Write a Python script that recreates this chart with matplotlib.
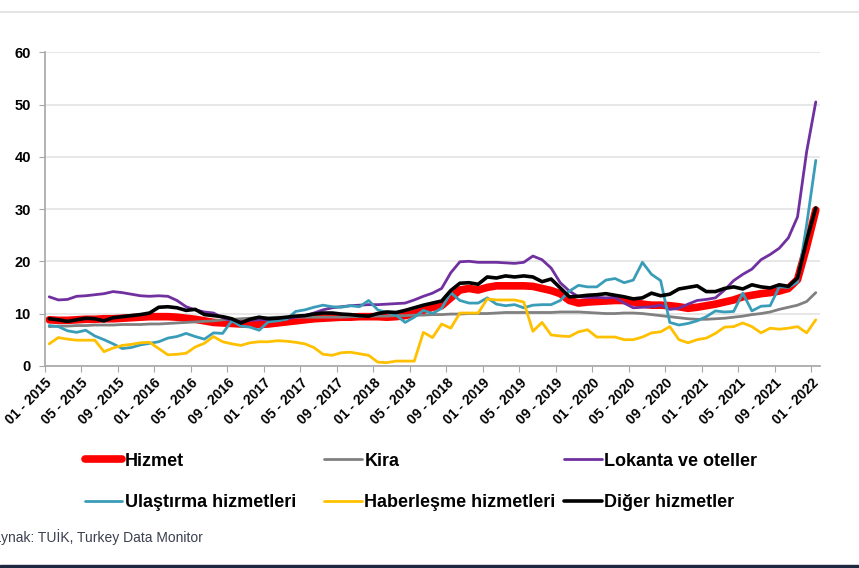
import numpy as np
import matplotlib
matplotlib.use("Agg")
import matplotlib.pyplot as plt
from matplotlib.lines import Line2D

plt.rcParams['font.family'] = ['Liberation Sans', 'DejaVu Sans']

# monthly, 01-2015 ... 01-2022 (annual % change)
months = [f"{m:02d} - {y}" for y in range(2015, 2023) for m in range(1, 13)][:85]

hizmet = [8.8, 8.7, 8.7, 8.8, 8.9, 8.9, 9.0, 9.0, 9.1, 9.2, 9.3, 9.4,
          9.4, 9.4, 9.3, 9.1, 8.9, 8.6, 8.3, 8.2, 8.1, 8.0, 8.0, 7.9,
          8.0, 8.2, 8.4, 8.6, 8.8, 9.0, 9.1, 9.2, 9.3, 9.3, 9.4, 9.4,
          9.4, 9.3, 9.4, 9.6, 10.0, 10.6, 11.2, 11.5, 13.0, 14.5, 14.8, 14.5,
          15.0, 15.3, 15.3, 15.3, 15.3, 15.2, 14.8, 14.4, 13.8, 12.5, 12.0, 12.2,
          12.3, 12.4, 12.5, 12.5, 12.2, 11.8, 11.6, 11.6, 11.5, 11.3, 11.0, 11.2,
          11.5, 11.8, 12.2, 12.6, 13.2, 13.5, 13.8, 14.0, 14.3, 14.8, 16.5, 22.8,
          29.8]
kira = [7.5, 7.6, 7.6, 7.7, 7.7, 7.8, 7.8, 7.8, 7.9, 7.9, 7.9, 8.0,
        8.0, 8.1, 8.2, 8.3, 8.4, 8.5, 8.6, 8.8, 8.9, 9.0, 9.1, 9.2,
        9.2, 9.3, 9.3, 9.3, 9.3, 9.3, 9.3, 9.3, 9.3, 9.4, 9.4, 9.5,
        9.5, 9.5, 9.6, 9.6, 9.7, 9.7, 9.8, 9.8, 9.9, 9.9, 10.0, 10.0,
        10.0, 10.1, 10.2, 10.2, 10.2, 10.2, 10.2, 10.2, 10.3, 10.3, 10.3, 10.2,
        10.1, 10.0, 10.0, 10.1, 10.1, 10.0, 9.8, 9.6, 9.4, 9.2, 9.0, 8.9,
        8.9, 9.0, 9.1, 9.3, 9.5, 9.8, 10.0, 10.3, 10.8, 11.2, 11.6, 12.3,
        14.0]
lokanta = [13.2, 12.6, 12.7, 13.3, 13.4, 13.6, 13.8, 14.2, 14.0, 13.7, 13.4, 13.3,
           13.4, 13.3, 12.5, 11.3, 10.7, 10.3, 10.1, 9.2, 8.6, 8.4, 8.7, 8.8,
           8.8, 8.9, 9.0, 9.3, 9.6, 10.1, 10.7, 11.1, 11.3, 11.5, 11.6, 11.7,
           11.7, 11.8, 11.9, 12.0, 12.6, 13.3, 13.9, 14.8, 17.8, 19.9, 20.0, 19.8,
           19.8, 19.8, 19.7, 19.6, 19.8, 21.0, 20.3, 18.7, 15.9, 14.3, 13.2, 13.1,
           13.1, 13.0, 13.1, 12.0, 11.1, 11.2, 11.3, 11.6, 10.8, 11.0, 11.8, 12.5,
           12.7, 13.0, 14.5, 16.3, 17.5, 18.5, 20.3, 21.3, 22.5, 24.5, 28.5, 41.0,
           50.5]
ulastirma = [7.7, 7.5, 6.7, 6.4, 6.8, 5.7, 5.0, 4.2, 3.3, 3.5, 4.0, 4.3,
             4.6, 5.3, 5.6, 6.2, 5.6, 5.1, 6.3, 6.2, 8.6, 7.6, 7.4, 6.8,
             8.4, 8.6, 8.9, 10.4, 10.7, 11.2, 11.6, 11.3, 11.2, 11.5, 11.3, 12.5,
             10.7, 10.2, 9.7, 8.3, 9.3, 10.6, 10.0, 11.0, 14.0, 12.5, 12.0, 12.0,
             13.0, 11.8, 11.5, 11.7, 11.1, 11.6, 11.7, 11.7, 12.5, 14.3, 15.4, 15.1,
             15.1, 16.4, 16.7, 15.9, 16.4, 19.8, 17.5, 16.3, 8.3, 7.8, 8.1, 8.6,
             9.4, 10.5, 10.3, 10.4, 13.9, 10.5, 11.4, 11.5, 15.1, 15.0, 16.0, 27.0,
             39.3]
haberlesme = [4.2, 5.4, 5.1, 4.9, 4.9, 4.9, 2.7, 3.4, 3.9, 4.1, 4.4, 4.5,
              3.3, 2.1, 2.2, 2.4, 3.6, 4.3, 5.6, 4.6, 4.2, 3.9, 4.4, 4.6,
              4.6, 4.8, 4.7, 4.5, 4.2, 3.5, 2.2, 2.0, 2.5, 2.6, 2.3, 2.0,
              0.7, 0.6, 0.9, 0.9, 0.9, 6.4, 5.4, 8.0, 7.2, 10.1, 10.1, 10.1,
              12.8, 12.6, 12.6, 12.6, 12.2, 6.6, 8.3, 5.9, 5.7, 5.6, 6.5, 6.9,
              5.5, 5.5, 5.5, 5.0, 5.0, 5.5, 6.3, 6.5, 7.5, 5.0, 4.4, 5.0,
              5.3, 6.2, 7.4, 7.5, 8.2, 7.5, 6.3, 7.2, 7.0, 7.2, 7.5, 6.3,
              8.8]
diger = [9.0, 8.8, 8.5, 8.8, 9.1, 9.0, 8.6, 9.2, 9.4, 9.6, 9.8, 10.1,
         11.2, 11.3, 11.1, 10.6, 10.8, 9.8, 9.6, 9.4, 9.0, 8.2, 8.9, 9.3,
         9.0, 9.1, 9.3, 9.5, 9.6, 9.9, 10.1, 10.1, 9.9, 9.8, 9.6, 9.5,
         10.0, 10.3, 10.2, 10.6, 11.1, 11.6, 12.0, 12.4, 14.4, 15.8, 15.9, 15.6,
         17.0, 16.8, 17.2, 17.0, 17.2, 17.0, 16.1, 16.6, 14.9, 13.2, 13.3, 13.5,
         13.6, 13.8, 13.5, 13.2, 12.8, 13.0, 13.9, 13.4, 13.7, 14.7, 15.0, 15.3,
         14.2, 14.2, 14.8, 15.1, 14.7, 15.5, 15.1, 14.9, 15.5, 15.2, 16.8, 24.0,
         30.2]

series = [
    ("Hizmet", hizmet, "#FF0000", 5.5),
    ("Kira", kira, "#808080", 2.0),
    ("Lokanta ve oteller", lokanta, "#7030A0", 2.0),
    ("Ulaştırma hizmetleri", ulastirma, "#3A9DB8", 2.0),
    ("Haberleşme hizmetleri", haberlesme, "#FFC000", 2.0),
    ("Diğer hizmetler", diger, "#000000", 2.6),
]

fig = plt.figure(figsize=(8.59, 5.68), dpi=100)
ax = fig.add_axes([0.052, 0.356, 0.903, 0.552])

x = np.arange(len(months))
handles = []
for name, vals, color, lw in series:
    h, = ax.plot(x, vals, color=color, lw=lw, solid_capstyle='round',
                 solid_joinstyle='round', label=name)
    handles.append(h)

ax.set_ylim(0, 60)
ax.set_xlim(-0.5, len(months) - 0.5)
ax.set_yticks(range(0, 61, 10))
ax.yaxis.grid(True, color='#e3e3e3', lw=1.2)
ax.set_axisbelow(True)
for s in ['top', 'right']:
    ax.spines[s].set_visible(False)
for s in ['left', 'bottom']:
    ax.spines[s].set_color('#a6a6a6')
    ax.spines[s].set_linewidth(1.2)

tick_pos = x[::4] - 0.5
ax.set_xticks(tick_pos)
ax.set_xticklabels(months[::4], rotation=45, ha='right', rotation_mode='anchor',
                   fontsize=10, fontweight='bold')
ax.tick_params(axis='x', length=4, color='#a6a6a6', pad=3)
ax.tick_params(axis='y', length=4, color='#a6a6a6', labelsize=10.5, pad=6)
for t in ax.get_yticklabels():
    t.set_fontweight('bold')

# legend in three columns
col_x = [0.090, 0.3685, 0.648]
for k, cx in enumerate(col_x):
    hs = [handles[k], handles[k + 3]]
    fig.legend(hs, [h.get_label() for h in hs], loc='upper left',
               bbox_to_anchor=(cx, 0.216), frameon=False, handlelength=2.1,
               handletextpad=0.15, labelspacing=1.35, borderaxespad=0,
               prop={'size': 13, 'weight': 'bold'})

fig.text(-0.019, 0.055, "Kaynak: TUİK, Turkey Data Monitor", fontsize=10,
         color='#3b3f4f', va='center', ha='left')

fig.add_artist(Line2D([0, 1], [0.979, 0.979], color='#e0e0e0', lw=1.2))
fig.add_artist(plt.Rectangle((0, 0), 1, 0.006, color='#1e2840'))

fig.savefig("out.png", dpi=100)
